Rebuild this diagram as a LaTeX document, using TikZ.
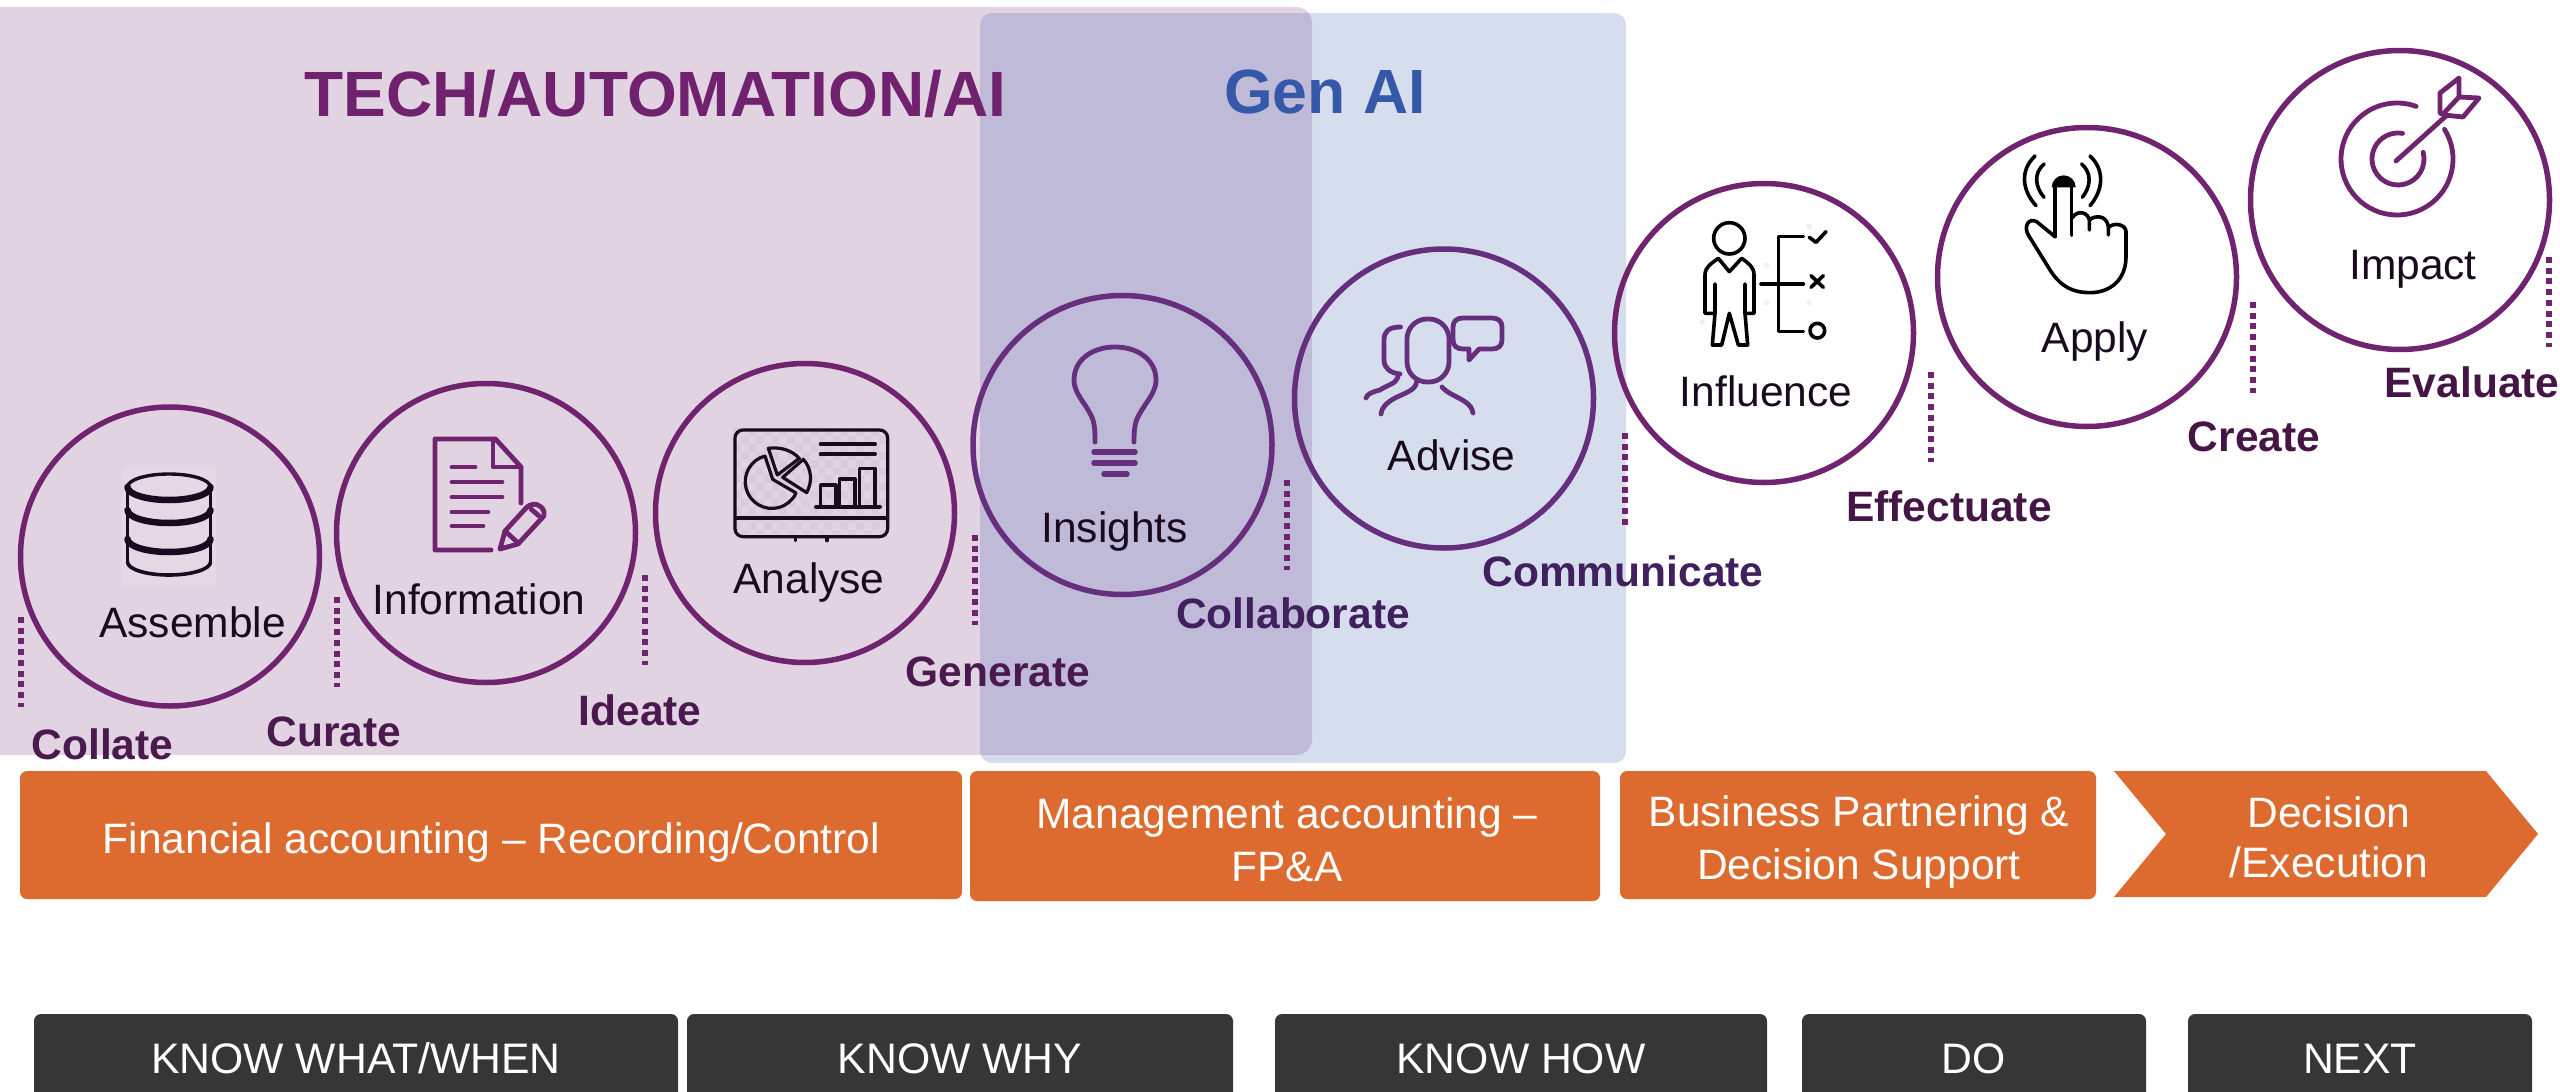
\documentclass[tikz,border=0pt]{standalone}
\usepackage{fontspec}
\setmainfont{Liberation Sans}
\definecolor{panelP}{HTML}{E1D3E1}
\definecolor{panelB}{HTML}{D6DDED}
\definecolor{panelO}{HTML}{BFBAD8}
\definecolor{ringP}{HTML}{70246F}
\definecolor{ringB}{HTML}{652F7E}
\definecolor{orangeF}{HTML}{DD6A2E}
\definecolor{darkF}{HTML}{363636}
\definecolor{labP}{HTML}{4A1A4E}
\definecolor{labO}{HTML}{40205F}
\definecolor{labW}{HTML}{451545}
\definecolor{titleP}{HTML}{70226E}
\definecolor{titleB}{HTML}{3558A8}
\definecolor{iconK}{HTML}{1A0A1F}
\definecolor{checkC}{HTML}{D9CADC}
\definecolor{dbBack}{HTML}{E5D8E5}
\tikzset{
  ring/.style={circle,draw=ringP,line width=5.5pt,minimum size=299pt,inner sep=0pt},
  dotline/.style={draw=ringP,line width=5.5pt,dash pattern=on 6pt off 4.7pt},
  lab/.style={anchor=base,inner sep=0pt,font=\fontsize{42.5}{50}\selectfont,text=iconK},
  blab/.style={anchor=base,inner sep=0pt,font=\fontsize{42.5}{50}\selectfont\bfseries,text=labP},
  orangebox/.style={fill=orangeF,rounded corners=7pt,inner sep=0pt},
  orangetext/.style={inner sep=0pt,align=center,text=white,font=\fontsize{42.5}{50}\selectfont},
  darkbox/.style={fill=darkF,rounded corners=7pt,inner sep=0pt,text=white,font=\fontsize{42.7}{50}\selectfont,minimum height=88pt,text height=31pt,text depth=0pt},
  iconp/.style={draw=ringP,line width=4.8pt,line cap=round,line join=round},
  iconb/.style={draw=ringB,line width=4.8pt,line cap=round,line join=round},
  iconk/.style={draw=black,line width=3.6pt,line cap=round,line join=round},
  icond/.style={draw=iconK,line width=3.2pt,line cap=round,line join=round},
}
\begin{document}
\begin{tikzpicture}[x=1pt,y=1pt,yscale=-1]
\useasboundingbox (0,0) rectangle (2560,1092);
\clip (0,0) rectangle (2560,1092);
% panels
\fill[panelP,rounded corners=16pt] (-20,7) rectangle (1312,755);
\fill[panelB,rounded corners=12pt] (980,13) rectangle (1626,763);
\begin{scope}
  \clip[rounded corners=16pt] (-20,7) rectangle (1312,755);
  \fill[panelO,rounded corners=12pt] (980,13) rectangle (1626,763);
\end{scope}
\node[anchor=base,inner sep=0pt,font=\fontsize{64}{70}\selectfont\bfseries,text=titleP] (ttech) at (655.5,116) {TECH/AUTOMATION/AI};
\node[anchor=base,inner sep=0pt,font=\fontsize{62.5}{70}\selectfont\bfseries,text=titleB] (tgen) at (1325,113) {Gen AI};
% orange
\node[orangebox,minimum width=942pt,minimum height=128pt] (fa) at (491,835) {};
\node[orangetext] (fat) at (491.5,843) {Financial accounting – Recording/Control};
\node[orangebox,minimum width=630pt,minimum height=130pt] (ma) at (1285,836) {};
\node[orangetext] (mat) at (1287,840) {Management accounting –\\[3pt]FP\&A};
\node[orangebox,minimum width=476pt,minimum height=128pt] (bp) at (1858,835) {};
\node[orangetext] (bpt) at (1859,842) {Business Partnering \&\\[3pt]Decision Support};
\fill[orangeF] (2114,771) -- (2486,771) -- (2538,834) -- (2486,897) -- (2114,897) -- (2166,834) -- cycle;
\node[orangetext] (de) at (2329,837) {Decision\\/Execution};
% dark boxes
\node[darkbox,minimum width=644pt] (k1) at (356,1058) {KNOW WHAT/WHEN};
\node[darkbox,minimum width=546pt] (k2) at (960,1058) {KNOW WHY};
\node[darkbox,minimum width=492pt] (k3) at (1521,1058) {KNOW HOW};
\node[darkbox,minimum width=344pt] (k4) at (1974,1058) {DO};
\node[darkbox,minimum width=344pt] (k5) at (2360,1058) {NEXT};
% rings
\node[ring] (c1) at (170,556.5) {};
\node[ring] (c2) at (486,533) {};
\node[ring] (c3) at (805,513) {};
\node[ring,draw=ringB] (c4) at (1122.5,445) {};
\node[ring,draw=ringB] (c5) at (1444,398.5) {};
\node[ring] (c6) at (1764,333) {};
\node[ring] (c7) at (2087,277) {};
\node[ring] (c8) at (2400,200) {};
% dotted lines
\draw[dotline] (21,617) -- (21,707);
\draw[dotline] (337,597) -- (337,687);
\draw[dotline] (645,575) -- (645,665);
\draw[dotline] (975,535) -- (975,625);
\draw[dotline] (1287,480) -- (1287,570);
\draw[dotline] (1625,433) -- (1625,527);
\draw[dotline] (1931,372) -- (1931,462);
\draw[dotline] (2253,302) -- (2253,393);
\draw[dotline] (2549,257) -- (2549,347);
% labels in rings
\node[lab] (l1) at (192.5,637) {Assemble};
\node[lab] (l2) at (479,614.5) {Information};
\node[lab] (l3) at (809,593) {Analyse};
\node[lab] (l4) at (1114.7,542) {Insights};
\node[lab] (l5) at (1451.6,470.5) {Advise};
\node[lab] (l6) at (1766,406.5) {Influence};
\node[lab] (l7) at (2095,352) {Apply};
\node[lab] (l8) at (2413,279.5) {Impact};
% bold labels
\node[blab] (b1) at (102.5,759) {Collate};
\node[blab] (b2) at (334,746.5) {Curate};
\node[blab] (b3) at (640,725) {Ideate};
\node[blab] (b4) at (998,686.5) {Generate};
\node[blab,text=labO] (b5) at (1293,628.5) {Collaborate};
\node[blab,text=labO] (b6) at (1623,586) {Communicate};
\node[blab,text=labW] (b7) at (1949,521) {Effectuate};
\node[blab,text=labW] (b8) at (2254,451) {Create};
\node[blab,text=labW] (b9) at (2472,397.5) {Evaluate};
% database icon
\fill[dbBack] (122,467) rectangle (216,585);
\draw[icond,line width=3.4pt] (127.5,487) -- (127.5,562) (210.5,487) -- (210.5,562);
\draw[icond,line width=3.4pt] (169,487) ellipse [x radius=41.5,y radius=13];
\draw[icond,line width=6.5pt] (127.5,487) arc[start angle=180,end angle=0,x radius=41.5,y radius=13];
\draw[icond,line width=6.5pt] (127.5,510) arc[start angle=180,end angle=0,x radius=41.5,y radius=13];
\draw[icond,line width=6.5pt] (127.5,539) arc[start angle=180,end angle=0,x radius=41.5,y radius=13];
\draw[icond,line width=3.6pt] (127.5,562) arc[start angle=180,end angle=0,x radius=41.5,y radius=13];
% document icon
\draw[iconp] (491,550) -- (435,550) -- (435,439) -- (495.5,439) -- (521,467) -- (521,503);
\draw[iconp] (493,439) -- (493,467) -- (521,467);
\draw[iconp] (452,467) -- (475,467) (452,482) -- (502,482) (452,497) -- (502,497) (452,512) -- (488,512) (452,526) -- (483,526);
\draw[iconp] (500,549) -- (505,531) -- (527,507) .. controls (533,502) and (542,504) .. (544,512) .. controls (544.5,515) and (544,516) .. (543,517) -- (518,544) -- cycle;
\draw[iconp] (505,531) -- (516,541) (531,509) -- (539,516);
% analyse icon
\begin{scope}[shift={(700,400)},scale=1/3]
  \foreach \i in {0,...,19}{\foreach \j in {0,...,13}{
    \pgfmathparse{int(mod(\i+\j,2))}
    \ifnum\pgfmathresult=0
      \fill[checkC] ({100+23*\i},{85+23.5*\j}) rectangle ({123+23*\i},{108.5+23.5*\j});
    \fi}}
  \draw[icond,rounded corners=8pt] (105,90) rectangle (563,410);
  \draw[icond,line width=4pt] (110,353) -- (560,353);
  \draw[icond,line width=4pt] (362,133) -- (525,133) (362,163) -- (525,163);
  \draw[icond,line width=4pt] (348,320) -- (540,320);
  \draw[icond] (362,320) -- (362,255) -- (408,255) -- (408,320);
  \draw[icond] (418,320) -- (418,237) -- (465,237) -- (465,320);
  \draw[icond] (478,320) -- (478,205) -- (525,205) -- (525,320);
  \draw[icond] (195,168) arc[start angle=-105,end angle=-335,radius=80] -- (218,238) -- cycle;
  \draw[icond] (205,145) .. controls (240,140) and (275,150) .. (298,175) -- (232,225) -- cycle;
  \draw[icond] (310,178) .. controls (335,205) and (338,245) .. (320,278) -- (248,232) -- cycle;
  \draw[icond] (287,410) -- (287,422) (381,410) -- (381,422);
\end{scope}
% bulb icon
\draw[iconb] (1095,442) .. controls (1095,420) and (1093,418) .. (1085,405) .. controls (1078,395) and (1074,388) .. (1074,380) .. controls (1074,360) and (1092,347) .. (1115,347) .. controls (1138,347) and (1156,360) .. (1156,380) .. controls (1156,388) and (1152,395) .. (1145,405) .. controls (1137,418) and (1134,420) .. (1134,442);
\draw[iconb,line width=5.5pt] (1094,452) -- (1135,452) (1094,463) -- (1135,463) (1104,474) -- (1127,474);
% advise icon
\draw[iconb,rounded corners=20pt] (1407,319) rectangle (1449,382);
\draw[iconb] (1400.5,327) .. controls (1388,327) and (1384,332) .. (1384,340) -- (1384,360) .. controls (1384,368) and (1390,373) .. (1400,374);
\draw[iconb] (1398,377) .. controls (1396,384) and (1387,385) .. (1380,390) .. controls (1372,392) and (1367,394) .. (1366,398);
\draw[iconb] (1416.5,382) .. controls (1416,390) and (1405,393) .. (1395,398) .. controls (1388,402) and (1382,406) .. (1381,414);
\draw[iconb] (1442,387) .. controls (1447,393) and (1456,396) .. (1464,401) .. controls (1470,405) and (1472,408) .. (1473,413);
\draw[iconb] (1469,349) -- (1469,360) -- (1479,349) -- (1492,349) .. controls (1498,349) and (1502,346) .. (1502,340) -- (1502,327) .. controls (1502,321) and (1498,318) .. (1492,318) -- (1463,318) .. controls (1457,318) and (1453,321) .. (1453,327) -- (1453,340) .. controls (1453,346) and (1457,349) .. (1463,349) -- (1469,349);
% influence icon
\begin{scope}[shift={(1680,210)},scale=1/3]
  \fill[black!6] (380,42) rectangle (395,57) (252,157) rectangle (267,172) (252,272) rectangle (267,287) (380,272) rectangle (395,287) (60,328) rectangle (75,343);
  \draw[iconk] (148,85) circle[radius=47];
  \draw[iconk] (103,310) -- (75,310) -- (75,195) .. controls (75,170) and (95,160) .. (115,145) -- (148,185) -- (185,145) .. controls (205,160) and (222,170) .. (222,195) -- (222,310) -- (195,310);
  \draw[iconk] (105,222) -- (105,310) -- (97,405) -- (125,405) -- (148,310) -- (175,405) -- (203,405) -- (195,310) -- (195,222);
  \draw[iconk] (243,222) -- (370,222);
  \draw[iconk] (370,80) -- (295,80) -- (295,365) -- (370,365);
  \draw[iconk] (388,82) -- (408,97) -- (438,65);
  \draw[iconk] (393,197) -- (430,232) (430,197) -- (393,232);
  \draw[iconk] (412,362) circle[radius=22];
\end{scope}
% apply icon
\begin{scope}[shift={(2000,140)},scale=1/3]
  \draw[iconk] (105,48) .. controls (60,90) and (65,150) .. (108,197);
  \draw[iconk] (132,72) .. controls (100,100) and (105,140) .. (132,172);
  \draw[iconk] (270,48) .. controls (315,90) and (310,150) .. (270,197);
  \draw[iconk] (245,72) .. controls (277,100) and (272,140) .. (247,172);
  \fill[black] (155,142) arc[start angle=180,end angle=360,radius=36] -- cycle;
  \draw[iconk] (165,290) -- (165,140);
  \draw[iconk] (215,285) -- (215,140);
  \draw[iconk] (165,290) -- (110,245) .. controls (85,232) and (70,260) .. (85,285) -- (150,390) .. controls (185,445) and (225,458) .. (270,458) .. controls (330,458) and (378,420) .. (378,350) -- (378,275) .. controls (378,255) and (345,245) .. (325,262);
  \draw[iconk] (215,235) .. controls (235,205) and (265,220) .. (268,240) -- (268,270);
  \draw[iconk] (268,240) .. controls (285,225) and (320,225) .. (325,260) -- (325,285);
\end{scope}
% target icon
\draw[iconp] (2397,159) ++(-32:56) arc[start angle=-32,end angle=290,radius=56];
\draw[iconp] (2398,159) ++(-15:26) arc[start angle=-15,end angle=280,radius=26];
\draw[iconp] (2396,161) -- (2446,116);
\draw[iconp] (2440,113) -- (2440,93) -- (2459,78) -- (2459,97) -- (2479,98) -- (2463,117) -- (2444,115) -- cycle;
\draw[iconp] (2444,113) -- (2459,97);
\end{tikzpicture}
\end{document}
